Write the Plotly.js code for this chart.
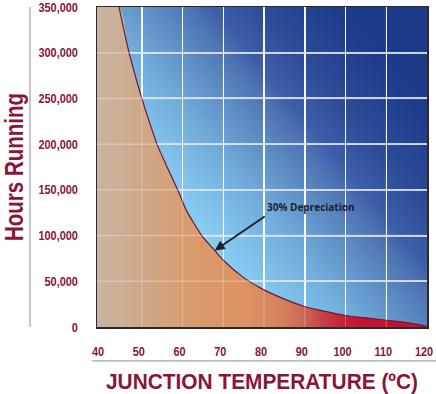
<!DOCTYPE html>
<html>
<head>
<meta charset="utf-8">
<script src="https://cdn.plot.ly/plotly-3.0.1.min.js"></script>
<style>html,body{margin:0;padding:0;background:#fff;}#chart{width:436px;height:394px;}</style>
</head>
<body>
<div id="chart"></div>
<script>
// ---- data ----
const temperatureC = [44.4, 46.6, 48.2, 50, 52.4, 54, 56, 59, 61, 63, 64.7, 67.9, 70, 75, 79.4, 85, 89.6, 95, 100, 105, 110, 115, 120];
const hoursRunning = [350000, 305000, 278000, 250000, 217000, 197000, 177000, 148000, 127000, 112000, 100000, 83700, 73000, 54000, 42000, 30500, 23000, 17000, 12600, 10000, 7400, 4800, 800];
const xTickVals = [40, 50, 60, 70, 80, 90, 100, 110, 120];
const yTickVals = [0, 50000, 100000, 150000, 200000, 250000, 300000, 350000];
const annotationText = "30% Depreciation";
const annotationIndex = 11;
const xTitle = "JUNCTION TEMPERATURE (ºC)";
const yTitle = "Hours Running";

// ---- style ----
const xRange = [39, 120];
const yRange = [0, 350000];
const maroon = "#8a1538";
const FONT = "'Liberation Sans', Arial, Helvetica, sans-serif";

const bgStops = [
  [0, "#a0e0fc"], [0.3, "#8ed4f6"], [0.4, "#80c0ea"], [0.49, "#72acda"],
  [0.6, "#5a88c0"], [0.66, "#4d72b2"], [0.7, "#3c5ea8"], [0.8, "#2c4a96"],
  [0.92, "#1d3d8c"], [1, "#1b3a88"]
];
const stopsSvg = bgStops.map(s => `<stop offset='${s[0]}' stop-color='${s[1]}'/>`).join("");
const bgSvg = `<svg xmlns='http://www.w3.org/2000/svg' width='330' height='320' viewBox='0 0 330 320' preserveAspectRatio='none'><defs><linearGradient id='g' x1='0' y1='1' x2='1' y2='0.2'>${stopsSvg}</linearGradient></defs><rect width='330' height='320' fill='url(#g)'/></svg>`;
const bgSource = "data:image/svg+xml;charset=utf-8," + encodeURIComponent(bgSvg);

const fillScale = [
  [0, "#c6b6a2"], [0.14, "#d0a888"], [0.3, "#d99a6c"], [0.45, "#dc9262"],
  [0.55, "#d6845e"], [0.62, "#cc6a54"], [0.68, "#c64448"], [0.74, "#c8213a"],
  [0.8, "#c9122f"], [1, "#c8102e"]
];

// fill polygon: region under curve, closing at the top-left corner of the axes
const fillX = [xRange[0]].concat(temperatureC);
const fillY = [yRange[1]].concat(hoursRunning);

const traces = [
  {
    type: "scatter", mode: "lines", x: fillX, y: fillY,
    fill: "tozeroy", line: {width: 0, color: "rgba(0,0,0,0)", shape: "spline", smoothing: 0.8},
    fillgradient: {type: "horizontal", colorscale: fillScale, start: xRange[0], stop: xRange[1]},
    hoverinfo: "skip", showlegend: false
  },
  {
    type: "scatter", mode: "lines", x: temperatureC, y: hoursRunning,
    line: {color: "#6a1833", width: 1.2, shape: "spline", smoothing: 0.8},
    showlegend: false
  }
];

const faintGrid = [];
xTickVals.slice(1, -1).forEach(v => faintGrid.push({type: "line", xref: "x", yref: "paper", x0: v, x1: v, y0: 0, y1: 1, layer: "above", line: {color: "rgba(255,255,255,0.28)", width: 1}}));
yTickVals.slice(1, -1).forEach(v => faintGrid.push({type: "line", xref: "paper", yref: "y", x0: 0, x1: 1, y0: v, y1: v, layer: "above", line: {color: "rgba(255,255,255,0.28)", width: 1.5}}));

const decor = [
  {type: "line", xref: "paper", yref: "paper", x0: -0.203, x1: -0.203, y0: 0, y1: 1, line: {color: "#8c8c8c", width: 1}},
  {type: "line", xref: "paper", yref: "paper", x0: -0.015, x1: 1.03, y0: -0.106, y1: -0.106, line: {color: "#8c8c8c", width: 1}}
];

const layout = {
  width: 436, height: 394,
  margin: {l: 97, r: 9, t: 7, b: 67, pad: 0},
  paper_bgcolor: "#ffffff",
  plot_bgcolor: "rgba(0,0,0,0)",
  showlegend: false,
  font: {family: FONT, color: maroon},
  images: [{source: bgSource, xref: "paper", yref: "paper", x: 0, y: 1, sizex: 1, sizey: 1, sizing: "stretch", xanchor: "left", yanchor: "top", layer: "below"}],
  xaxis: {
    range: xRange, tickvals: xTickVals, ticks: "", ticklabelstandoff: 12, ticklabelshift: -3, ticklabeloverflow: "allow",
    tickfont: {family: FONT, size: 13, color: maroon, weight: "bold"},
    showgrid: true, gridcolor: "rgba(255,255,255,0.95)", gridwidth: 1.5,
    zeroline: false, showline: true, mirror: true, linecolor: "#2e2a2c", linewidth: 1.5,
    title: {text: xTitle, font: {family: FONT, size: 22, color: maroon, weight: "bold"}, standoff: 16}
  },
  yaxis: {
    range: yRange, tickvals: yTickVals, tickformat: ",", ticks: "", ticklabelstandoff: 15, ticklabeloverflow: "allow",
    tickfont: {family: FONT, size: 13, color: maroon, weight: "bold"},
    showgrid: true, gridcolor: "rgba(215,225,250,0.85)", gridwidth: 2,
    zeroline: false, showline: true, mirror: true, linecolor: "#2e2a2c", linewidth: 1.5,
    title: {text: yTitle, font: {family: FONT, size: 25, color: maroon, weight: "bold"}, standoff: 14}
  },
  shapes: faintGrid.concat(decor),
  annotations: [{
    x: temperatureC[annotationIndex], y: hoursRunning[annotationIndex], xref: "x", yref: "y",
    text: annotationText, showarrow: true, arrowhead: 2, arrowsize: 1, arrowwidth: 2, arrowcolor: "#1c2130",
    ax: 50, ay: -34, xanchor: "left", yanchor: "bottom",
    font: {family: "'Open Sans', 'DejaVu Sans', sans-serif", size: 10, color: "#1c2130", weight: "bold"}
  }]
};

// condensed look (the reference uses a narrow bold face): compress glyphs of axis texts
function condense(gd) {
  const squeeze = (el, factor, target) => {
    const L = el.getComputedTextLength();
    el.setAttribute("textLength", target ? target : L * factor);
    el.setAttribute("lengthAdjust", "spacingAndGlyphs");
  };
  gd.querySelectorAll(".xtick text, .ytick text").forEach(t => squeeze(t, 0.84));
  const xt = gd.querySelector(".xtitle"); if (xt) squeeze(xt, 0, 312);
  const yt = gd.querySelector(".ytitle"); if (yt) squeeze(yt, 0, 148);
}

Plotly.newPlot("chart", traces, layout, {staticPlot: true, displayModeBar: false}).then(condense);
</script>
</body>
</html>
